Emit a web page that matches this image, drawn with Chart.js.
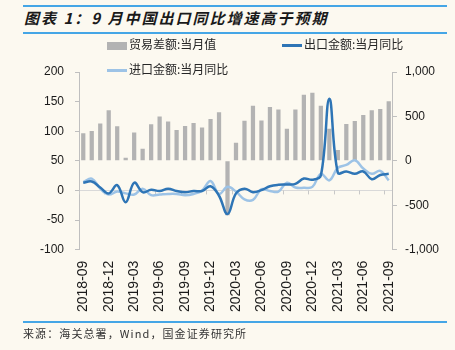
<!DOCTYPE html>
<html>
<head>
<meta charset="utf-8">
<script src="https://cdn.jsdelivr.net/npm/chart.js@4.4.0/dist/chart.umd.min.js"></script>
<style>
  html, body { margin: 0; padding: 0; background: #fcf9f0; }
  #wrap { position: relative; width: 455px; height: 350px; overflow: hidden; background: #fcf9f0; }
  #chartBox { position: absolute; left: 0; top: 0; width: 455px; height: 350px; }
  .rule { position: absolute; left: 23px; width: 424px; height: 1.5px; background: #45a6e6; }
  #title { position: absolute; left: 24px; top: 7px; font: italic bold 15px "Noto Sans CJK SC", sans-serif; letter-spacing: 2px; color: #1a1a1a; white-space: nowrap; }
  .leg { position: absolute; font: 12px "Noto Sans CJK SC", sans-serif; color: #262626; white-space: nowrap; line-height: 14px; }
  .sw { display: inline-block; vertical-align: middle; margin-right: 2px; }
  #source { position: absolute; left: 23px; top: 325px; font: 11px "Noto Sans CJK SC", sans-serif; letter-spacing: 1.1px; color: #333; white-space: nowrap; }
</style>
</head>
<body>
<div id="wrap">
  <div class="rule" style="top:5px"></div>
  <div id="title">图表 1：9 月中国出口同比增速高于预期</div>
  <div class="rule" style="top:32px"></div>
  <div id="chartBox"><canvas id="tradeChart"></canvas></div>
  <div class="leg" style="left:107px; top:37px"><span class="sw" style="width:20px;height:8px;background:#b3b3b3"></span>贸易差额:当月值</div>
  <div class="leg" style="left:282px; top:37px"><span class="sw" style="width:20px;height:2.5px;background:#2e75b6"></span>出口金额:当月同比</div>
  <div class="leg" style="left:107px; top:62px"><span class="sw" style="width:20px;height:2.5px;background:#9dc3e6"></span>进口金额:当月同比</div>
  <div class="rule" style="top:321px"></div>
  <div id="source">来源：海关总署，Wind，国金证券研究所</div>
</div>
<script>
const months = [
    '2018-09', '2018-10', '2018-11', '2018-12', '2019-01', '2019-02', '2019-03', '2019-04',
    '2019-05', '2019-06', '2019-07', '2019-08', '2019-09', '2019-10', '2019-11', '2019-12',
    '2020-01', '2020-02', '2020-03', '2020-04', '2020-05', '2020-06', '2020-07', '2020-08',
    '2020-09', '2020-10', '2020-11', '2020-12', '2021-01', '2021-02', '2021-03', '2021-04',
    '2021-05', '2021-06', '2021-07', '2021-08', '2021-09'
];

// 贸易差额:当月值 (right axis)
const tradeBalance = [
    310, 335, 420, 570, 388, 35, 318, 135, 413, 500, 443, 348, 392, 426, 375, 472,
    546, -614, 203, 452, 621, 455, 607, 578, 360, 578, 745, 765, 621, 362, 122, 414,
    448, 516, 569, 584, 672
];

// 出口金额:当月同比 (left axis)
const exportYoY = [
    13, 15, 5, -5, 9, -20, 13, -3, 1, -1, 3, -1, -3, -1, -1, 7,
    -9, -40, -5, 3, -3, 0.5, 7, 9.5, 10, 11, 20, 18, 25, 155, 30, 32,
    28, 32, 19, 26, 28
];

// 进口金额:当月同比 (left axis)
const importYoY = [
    14, 20, 3, -7, -2, -5, -7, 3, -8, -7, -6, -6, -8, -6, 0, 16,
    -6, 6, -2, -15, -16, 2, -1, -2, 13, 5, 4.5, 6, 28, 17, 38, 43,
    51, 37, 28, 33, 17
];

const leftTicks = [-100, -50, 0, 50, 100, 150, 200];
const rightTicks = [-1000, -500, 0, 500, 1000];

// small tick marks on the zero line, every 3 months
const zeroLineTicks = {
    id: 'zeroLineTicks',
    beforeDatasetsDraw(chart) {
        const xs = chart.scales.x;
        const y0 = chart.scales.y.getPixelForValue(0);
        const half = (xs.getPixelForValue(1) - xs.getPixelForValue(0)) / 2;
        const ctx = chart.ctx;
        ctx.save();
        ctx.strokeStyle = '#c8c8c8';
        ctx.lineWidth = 1;
        for (let i = 0; i < months.length; i += 3) {
            const x = Math.round(xs.getPixelForValue(i) - half) + 0.5;
            ctx.beginPath();
            ctx.moveTo(x, y0);
            ctx.lineTo(x, y0 + 4);
            ctx.stroke();
        }
        ctx.restore();
    }
};

const ctx = document.getElementById('tradeChart').getContext('2d');
const tradeChart = new Chart(ctx, {
    type: 'bar',
    data: {
        labels: months,
        datasets: [
            {
                type: 'line',
                label: '出口金额:当月同比',
                data: exportYoY,
                yAxisID: 'y',
                borderColor: '#2e75b6',
                borderWidth: 2.5,
                pointRadius: 0,
                tension: 0.4,
                fill: false,
                order: 0
            },
            {
                type: 'line',
                label: '进口金额:当月同比',
                data: importYoY,
                yAxisID: 'y',
                borderColor: '#9dc3e6',
                borderWidth: 2.5,
                pointRadius: 0,
                tension: 0.4,
                fill: false,
                order: 1
            },
            {
                type: 'bar',
                label: '贸易差额:当月值',
                data: tradeBalance,
                yAxisID: 'y1',
                backgroundColor: '#b3b3b3',
                barPercentage: 0.5,
                categoryPercentage: 1.0,
                order: 2
            }
        ]
    },
    options: {
        responsive: true,
        maintainAspectRatio: false,
        animation: false,
        layout: {
            padding: { top: 72, left: 29, right: 8, bottom: 27 }
        },
        scales: {
            x: {
                offset: true,
                border: { display: false },
                grid: { display: false, drawTicks: false },
                ticks: {
                    autoSkip: false,
                    minRotation: 90,
                    maxRotation: 90,
                    padding: 11,
                    color: '#1a1a1a',
                    font: { family: 'Liberation Sans, Arial, sans-serif', size: 14 },
                    callback: (v, i) => (i % 3 === 0 ? months[i] : '')
                }
            },
            y: {
                position: 'left',
                min: -100,
                max: 200,
                afterBuildTicks: (axis) => { axis.ticks = leftTicks.map(v => ({ value: v })); },
                border: { display: true, color: '#bfbfbf' },
                grid: {
                    drawOnChartArea: true,
                    color: (c) => (c.tick && c.tick.value === 0 ? '#d9d9d9' : 'rgba(0,0,0,0)'),
                    tickColor: '#bfbfbf',
                    tickLength: 4
                },
                ticks: {
                    padding: 11,
                    color: '#1a1a1a',
                    font: { family: 'Liberation Sans, Arial, sans-serif', size: 12 }
                }
            },
            y1: {
                position: 'right',
                min: -1000,
                max: 1000,
                afterBuildTicks: (axis) => { axis.ticks = rightTicks.map(v => ({ value: v })); },
                border: { display: true, color: '#bfbfbf' },
                grid: {
                    drawOnChartArea: false,
                    tickColor: '#bfbfbf',
                    tickLength: 4
                },
                ticks: {
                    padding: 8,
                    color: '#1a1a1a',
                    font: { family: 'Liberation Sans, Arial, sans-serif', size: 12 },
                    callback: (v) => v.toLocaleString('en-US')
                }
            }
        },
        plugins: {
            legend: { display: false },
            tooltip: { enabled: false }
        }
    },
    plugins: [zeroLineTicks]
});
</script>
</body>
</html>
